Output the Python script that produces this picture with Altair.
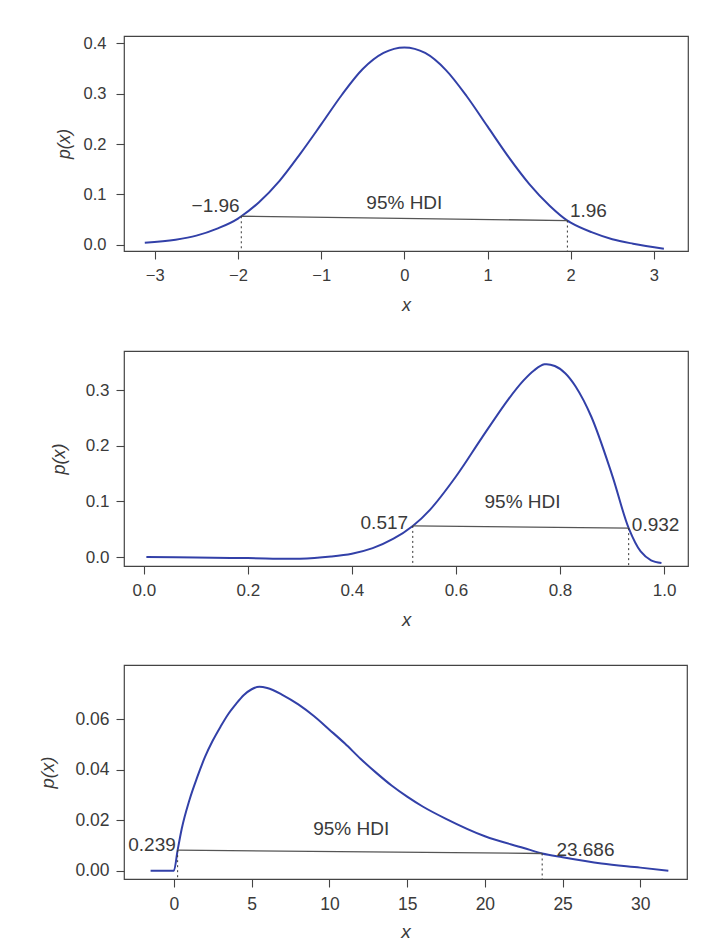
import altair as alt
import pandas as pd

# ---------------- data ----------------
# Panel 1: normal-like density
p1_x = [-3.12, -2.75, -2.5, -2.25, -2.0, -1.96, -1.75, -1.5, -1.25, -1.0, -0.75, -0.5, -0.25,
        0.0, 0.25, 0.5, 0.75, 1.0, 1.25, 1.5, 1.75, 1.96, 2.0, 2.25, 2.5, 2.75, 3.12]
p1_y = [0.004, 0.010, 0.018, 0.032, 0.052, 0.0565, 0.084, 0.127, 0.181, 0.239, 0.298, 0.349, 0.381,
        0.392, 0.381, 0.347, 0.295, 0.235, 0.175, 0.121, 0.077, 0.048, 0.044, 0.025, 0.011, 0.002, -0.008]
p1_hdi = [-1.96, 1.96]
p1_hdi_y = [0.0565, 0.048]
p1_xticks = [-3, -2, -1, 0, 1, 2, 3]
p1_yticks = [0.0, 0.1, 0.2, 0.3, 0.4]

# Panel 2: beta-like density
p2_x = [0.005, 0.1, 0.2, 0.3, 0.36, 0.4, 0.44, 0.48, 0.517, 0.55, 0.6, 0.65, 0.7, 0.73, 0.75,
        0.77, 0.79, 0.81, 0.83, 0.86, 0.9, 0.932, 0.955, 0.975, 0.995]
p2_y = [0.0, -0.001, -0.002, -0.003, 0.001, 0.006, 0.016, 0.033, 0.056, 0.085, 0.145, 0.215, 0.283,
        0.318, 0.336, 0.347, 0.344, 0.331, 0.307, 0.253, 0.148, 0.052, 0.010, -0.006, -0.011]
p2_hdi = [0.517, 0.932]
p2_hdi_y = [0.056, 0.052]
p2_xticks = [0.0, 0.2, 0.4, 0.6, 0.8, 1.0]
p2_yticks = [0.0, 0.05, 0.1, 0.15, 0.2, 0.25, 0.3, 0.35]

# Panel 3: gamma-like density
p3_x = [-1.5, 0.0, 0.239, 0.5, 1.0, 1.5, 2.0, 2.5, 3.0, 3.5, 4.0, 4.5, 5.0, 5.5, 6.0, 7.0,
        8.0, 9.0, 10.0, 11.0, 12.0, 13.0, 14.0, 15.0, 16.0, 17.5, 20.0, 22.5, 23.686, 25.0, 27.5,
        30.0, 31.8]
p3_y = [0.0, 0.0, 0.0081, 0.0165, 0.028, 0.037, 0.045, 0.0515, 0.057, 0.062, 0.066, 0.0695,
        0.0718, 0.0728, 0.0723, 0.0695, 0.0658, 0.0612, 0.0558, 0.0503, 0.0443, 0.0388, 0.0337,
        0.0293, 0.0254, 0.0205, 0.0136, 0.009, 0.0068, 0.0053, 0.0028, 0.0012, 0.0]
p3_hdi = [0.239, 23.686]
p3_hdi_y = [0.0081, 0.0068]
p3_xticks = [0, 5, 10, 15, 20, 25, 30]
p3_yticks = [0.0, 0.02, 0.04, 0.06]

# annotations: text, x, y, align
p1_text = [("\u22121.96", -1.98, 0.077, "right"), ("1.96", 1.99, 0.066, "left"), ("95% HDI", 0.0, 0.083, "center")]
p2_text = [("0.517", 0.508, 0.061, "right"), ("0.932", 0.938, 0.057, "left"), ("95% HDI", 0.728, 0.099, "center")]
p3_text = [("0.239", 0.12, 0.0101, "right"), ("23.686", 24.6, 0.0083, "left"), ("95% HDI", 11.4, 0.0163, "center")]

FONT = "Liberation Sans"
BLUE = "#3240a8"
INK = "#3a3a3a"


def panel(xs, ys, hdi, hdi_y, xticks, yticks, texts, xdom, ydom, w, h, fs, afs,
          xfmt, yfmt, ylabel_expr, ylab_pad, ytitle_pad, xtitle_pad, interp):
    curve = pd.DataFrame({"x": xs, "y": ys})
    hdi_df = pd.DataFrame({"x": [hdi[0]], "x2": [hdi[1]], "y": [hdi_y[0]], "y2": [hdi_y[1]]})
    drop_df = pd.DataFrame({"x": hdi, "y": hdi_y})
    txt_df = pd.DataFrame(texts, columns=["label", "x", "y", "align"])

    xaxis = alt.Axis(values=xticks, format=xfmt, domain=False, grid=False, tickSize=8,
                     tickColor="#444", tickWidth=1.1, labelFont=FONT, labelFontSize=fs,
                     labelColor=INK, labelPadding=8, title="x", titleFont=FONT,
                     titleFontSize=fs + 1.5, titleFontStyle="italic", titleFontWeight="normal",
                     titleColor=INK, titlePadding=xtitle_pad, labelFlush=False)
    yaxis_kw = dict(values=yticks, domain=False, grid=False, tickSize=8,
                    tickColor="#444", tickWidth=1.1, labelFont=FONT, labelFontSize=fs,
                    labelColor=INK, labelPadding=ylab_pad, title="p(x)", titleFont=FONT,
                    titleFontSize=fs + 1, titleFontStyle="italic", titleFontWeight="normal",
                    titleColor=INK, titlePadding=ytitle_pad, labelFlush=False)
    if ylabel_expr:
        yaxis_kw["labelExpr"] = ylabel_expr
    else:
        yaxis_kw["format"] = yfmt
    yaxis = alt.Axis(**yaxis_kw)

    xs_ = alt.Scale(domain=xdom, nice=False, zero=False)
    ys_ = alt.Scale(domain=ydom, nice=False, zero=False)

    line = alt.Chart(curve).mark_line(color=BLUE, strokeWidth=2, interpolate=interp).encode(
        x=alt.X("x:Q", scale=xs_, axis=xaxis),
        y=alt.Y("y:Q", scale=ys_, axis=yaxis),
    )
    hline = alt.Chart(hdi_df).mark_rule(color="#555", strokeWidth=1.3).encode(
        x="x:Q", x2="x2:Q", y="y:Q", y2="y2:Q"
    )
    drops = alt.Chart(drop_df).mark_rule(color="#333", strokeWidth=1, strokeDash=[2, 3]).encode(
        x="x:Q", y="y:Q", y2=alt.value(h)
    )
    labels = []
    for al in ["left", "right", "center"]:
        sub = txt_df[txt_df["align"] == al]
        if len(sub):
            labels.append(alt.Chart(sub).mark_text(align=al, baseline="middle", font=FONT,
                                                   fontSize=afs, color=INK).encode(
                x="x:Q", y="y:Q", text="label:N"))
    return alt.layer(line, hline, drops, *labels).properties(width=w, height=h)


c1 = panel(p1_x, p1_y, p1_hdi, p1_hdi_y, p1_xticks, p1_yticks, p1_text,
           [-3.37, 3.41], [-0.0125, 0.4147], 564, 215, 16.5, 19, "d", ".1f", None, 10, 10, 13,
           "monotone")
c2 = panel(p2_x, p2_y, p2_hdi, p2_hdi_y, p2_xticks, p2_yticks, p2_text,
           [-0.038, 1.046], [-0.0162, 0.371], 564, 215, 17, 19, ".1f", ".1f",
           "abs(datum.value*10 - round(datum.value*10)) < 0.001 ? format(datum.value, '.1f') : ''",
           7, 17, 12, "catmull-rom")
c3 = panel(p3_x, p3_y, p3_hdi, p3_hdi_y, p3_xticks, p3_yticks, p3_text,
           [-3.21, 33.0], [-0.0033, 0.0814], 563, 214, 17.5, 19, "d", ".2f", None, 7, 17, 10,
           "monotone")

chart = alt.vconcat(c1, c2, c3, spacing=34).properties(
    padding={"left": 30, "top": 26, "right": 4, "bottom": 2},
    background="white",
).configure_view(stroke="#444", strokeWidth=1.2)

chart.save("out.html", embed_options={"renderer": "svg", "actions": False})
